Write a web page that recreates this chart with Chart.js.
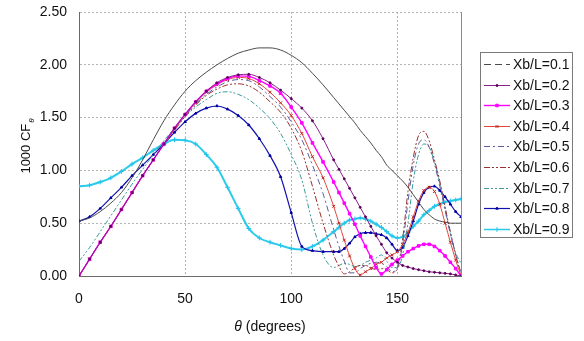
<!DOCTYPE html>
<html>
<head>
<meta charset="utf-8">
<script src="https://cdn.jsdelivr.net/npm/chart.js@4.4.0/dist/chart.umd.min.js"></script>
<style>
  html, body { margin: 0; padding: 0; background: #fff; }
</style>
</head>
<body>
<canvas id="cf" width="584" height="341"></canvas>
<script>
// angle (degrees) - finer step past 120 where the curves get busy
const theta = [0, 5, 10, 15, 20, 25, 30, 35, 40, 45, 50, 55, 60, 65, 70, 75, 80, 85, 90, 95, 100, 105, 110, 115, 120,
  122.5, 125, 127.5, 130, 132.5, 135, 137.5, 140, 142.5, 145, 147.5, 150, 152.5, 155, 157.5, 160,
  162.5, 165, 167.5, 170, 172.5, 175, 177.5, 180];

const seriesNames = ["Xb/L=0.1", "Xb/L=0.2", "Xb/L=0.3", "Xb/L=0.4", "Xb/L=0.5",
  "Xb/L=0.6", "Xb/L=0.7", "Xb/L=0.8", "Xb/L=0.9"];

const xb01 = [0.52, 0.55, 0.61, 0.69, 0.79, 0.93, 1.10, 1.29, 1.47, 1.62, 1.75, 1.85, 1.93, 2.00, 2.06, 2.11, 2.14, 2.16, 2.16, 2.14, 2.09, 2.02, 1.92, 1.81, 1.69,
  1.63, 1.57, 1.51, 1.45, 1.38, 1.32, 1.26, 1.19, 1.13, 1.05, 1.00, 0.95, 0.90, 0.84, 0.77, 0.70,
  0.63, 0.58, 0.54, 0.52, 0.51, 0.50, 0.50, 0.50];
const xb02 = [0, 0.16, 0.32, 0.47, 0.63, 0.79, 0.95, 1.10, 1.25, 1.40, 1.53, 1.65, 1.75, 1.83, 1.88, 1.905, 1.91, 1.88, 1.83, 1.76, 1.68, 1.59, 1.47, 1.30, 1.10,
  1.01, 0.92, 0.83, 0.74, 0.65, 0.56, 0.47, 0.38, 0.30, 0.22, 0.17, 0.13, 0.10, 0.085, 0.07, 0.06,
  0.05, 0.04, 0.035, 0.03, 0.025, 0.02, 0.01, 0];
const xb03 = [0, 0.16, 0.32, 0.47, 0.63, 0.79, 0.95, 1.10, 1.25, 1.40, 1.53, 1.65, 1.75, 1.82, 1.87, 1.895, 1.89, 1.85, 1.80, 1.73, 1.60, 1.45, 1.26, 1.08, 0.89,
  0.79, 0.69, 0.59, 0.49, 0.38, 0.28, 0.18, 0.08, 0.02, 0.06, 0.11, 0.15, 0.19, 0.23, 0.26, 0.285,
  0.30, 0.30, 0.28, 0.24, 0.19, 0.13, 0.07, 0];
const xb04 = [0, 0.16, 0.32, 0.47, 0.63, 0.79, 0.95, 1.10, 1.25, 1.39, 1.53, 1.64, 1.74, 1.81, 1.86, 1.88, 1.87, 1.82, 1.74, 1.64, 1.52, 1.35, 1.13, 0.93, 0.66,
  0.50, 0.34, 0.19, 0.07, 0.01, 0.04, 0.07, 0.11, 0.13, 0.17, 0.20, 0.23, 0.30, 0.41, 0.56, 0.71,
  0.81, 0.84, 0.80, 0.68, 0.50, 0.32, 0.15, 0];
const xb05 = [0, 0.16, 0.32, 0.47, 0.63, 0.79, 0.95, 1.10, 1.25, 1.39, 1.52, 1.63, 1.72, 1.79, 1.84, 1.86, 1.85, 1.79, 1.70, 1.60, 1.46, 1.29, 1.05, 0.78, 0.44,
  0.28, 0.14, 0.03, 0.03, 0.07, 0.10, 0.12, 0.13, 0.12, 0.09, 0.04, 0.08, 0.30, 0.70, 1.05, 1.25,
  1.29, 1.22, 1.06, 0.85, 0.62, 0.40, 0.20, 0.03];
const xb06 = [0, 0.16, 0.32, 0.47, 0.63, 0.79, 0.95, 1.10, 1.25, 1.38, 1.51, 1.62, 1.71, 1.77, 1.81, 1.82, 1.80, 1.74, 1.65, 1.55, 1.40, 1.18, 0.85, 0.50, 0.20,
  0.09, 0.02, 0.04, 0.08, 0.10, 0.10, 0.08, 0.06, 0.07, 0.06, 0.03, 0.07, 0.35, 0.80, 1.12, 1.33,
  1.37, 1.28, 1.10, 0.90, 0.65, 0.42, 0.20, 0.02];
const xb07 = [0.14, 0.27, 0.42, 0.57, 0.72, 0.87, 1.01, 1.15, 1.28, 1.40, 1.51, 1.60, 1.67, 1.73, 1.745, 1.72, 1.67, 1.59, 1.49, 1.35, 1.15, 0.91, 0.50, 0.20, 0.08,
  0.10, 0.12, 0.11, 0.09, 0.10, 0.13, 0.15, 0.17, 0.20, 0.14, 0.08, 0.08, 0.20, 0.50, 0.90, 1.15,
  1.25, 1.22, 1.08, 0.88, 0.65, 0.40, 0.22, 0.12];
const xb08 = [0.52, 0.56, 0.64, 0.74, 0.84, 0.95, 1.05, 1.15, 1.25, 1.36, 1.46, 1.54, 1.59, 1.61, 1.58, 1.52, 1.43, 1.30, 1.14, 0.94, 0.60, 0.28, 0.24, 0.23, 0.23,
  0.23, 0.26, 0.31, 0.37, 0.40, 0.41, 0.41, 0.40, 0.39, 0.36, 0.30, 0.24, 0.27, 0.38, 0.52, 0.68,
  0.79, 0.84, 0.85, 0.81, 0.75, 0.68, 0.61, 0.56];
const xb09 = [0.85, 0.86, 0.89, 0.93, 0.99, 1.06, 1.12, 1.19, 1.25, 1.29, 1.285, 1.25, 1.15, 1.03, 0.84, 0.64, 0.45, 0.36, 0.32, 0.29, 0.26, 0.25, 0.28, 0.34, 0.42,
  0.46, 0.50, 0.53, 0.54, 0.55, 0.54, 0.52, 0.49, 0.46, 0.42, 0.38, 0.36, 0.37, 0.41, 0.47, 0.52,
  0.58, 0.62, 0.66, 0.68, 0.70, 0.71, 0.72, 0.73];

const yTicks = [0, 0.5, 1, 1.5, 2, 2.5];

const allSeries = [xb01, xb02, xb03, xb04, xb05, xb06, xb07, xb08, xb09];
const lineColors = ["#4a4a4a", "#8a1f8a", "#ff00ff", "#e0453a", "#5c5c9c", "#9a3030", "#3a9a9a", "#1010b0", "#2ccbec"];
const markerColors = ["#4a4a4a", "#5a005a", "#ff00ff", "#c02020", "#5c5c9c", "#9a3030", "#3a9a9a", "#0000a0", "#22c4ee"];
const dashes = [[], [], [], [], [6, 3, 2, 3], [6, 2, 2, 2, 2, 2], [5, 2, 2, 2, 2, 2], [], []];
const legendDashes = [[7, 4], [], [], [], [6, 3, 2, 3], [6, 2, 2, 2, 2, 2], [5, 2, 2, 2, 2, 2], [], []];
const markers = [false, "circle", "rect", "crossRot", false, false, false, "triangle", "cross"];
const markerSize = [0, 1, 1.8, 2, 0, 0, 0, 1.4, 2.4];
const widths = [1, 1, 1.4, 1, 1, 1, 1, 1.2, 2];

const datasets = allSeries.map((vals, i) => ({
  label: seriesNames[i],
  data: theta.map((t, k) => ({ x: t, y: vals[k] })),
  borderColor: lineColors[i],
  backgroundColor: markerColors[i],
  borderWidth: widths[i],
  borderDash: dashes[i],
  cubicInterpolationMode: "monotone",
  pointStyle: markers[i] || "circle",
  pointRadius: markers[i] ? markerSize[i] : 0,
  pointBorderColor: markerColors[i],
  pointBackgroundColor: markerColors[i],
  pointBorderWidth: 1,
  pointHoverRadius: 0,
  fill: false
}));

const FONT = "'Liberation Sans', Arial, sans-serif";

// plot frame edge, axis titles and boxed legend
const extras = {
  id: "extras",
  afterDraw(chart) {
    const ctx = chart.ctx;
    const a = chart.chartArea;
    ctx.save();

    ctx.strokeStyle = "#8c8c8c";
    ctx.lineWidth = 1;
    ctx.beginPath();
    ctx.moveTo(Math.round(a.right) + 0.5, a.top);
    ctx.lineTo(Math.round(a.right) + 0.5, a.bottom);
    ctx.stroke();

    // x title
    ctx.fillStyle = "#111";
    ctx.textBaseline = "alphabetic";
    const mid = (a.left + a.right) / 2;
    ctx.font = "italic 14px " + FONT;
    const th = ctx.measureText("\u03b8 ").width;
    ctx.font = "14px " + FONT;
    const rest = ctx.measureText("(degrees)").width;
    let x0 = mid - (th + rest) / 2;
    ctx.font = "italic 14px " + FONT;
    ctx.textAlign = "left";
    ctx.fillText("\u03b8 ", x0, 331);
    ctx.font = "14px " + FONT;
    ctx.fillText("(degrees)", x0 + th, 331);

    // y title with subscript theta
    ctx.save();
    ctx.translate(30, 146);
    ctx.rotate(-Math.PI / 2);
    ctx.font = "13px " + FONT;
    const main = ctx.measureText("1000 CF").width;
    ctx.font = "italic 8px " + FONT;
    const sub = ctx.measureText("\u03b8").width;
    const sx = -(main + sub + 1) / 2;
    ctx.font = "13px " + FONT;
    ctx.fillText("1000 CF", sx, 0);
    ctx.font = "italic 8px " + FONT;
    ctx.fillText("\u03b8", sx + main + 1, 4);
    ctx.restore();

    // legend
    ctx.strokeStyle = "#7a7a7a";
    ctx.lineWidth = 1;
    ctx.strokeRect(480.5, 52.5, 92, 185);
    ctx.font = "14px " + FONT;
    ctx.textBaseline = "middle";
    chart.data.datasets.forEach((ds, i) => {
      const y = Math.round(64 + i * 20.6) + 0.5;
      ctx.save();
      ctx.strokeStyle = ds.borderColor;
      ctx.lineWidth = Math.min(ds.borderWidth, 1.5);
      ctx.setLineDash(legendDashes[i]);
      ctx.beginPath();
      ctx.moveTo(484, y);
      ctx.lineTo(510, y);
      ctx.stroke();
      ctx.restore();
      if (ds.pointRadius > 0 && Chart.helpers && Chart.helpers.drawPoint) {
        ctx.save();
        ctx.strokeStyle = ds.pointBorderColor;
        ctx.fillStyle = ds.pointBackgroundColor;
        ctx.lineWidth = 1;
        Chart.helpers.drawPoint(ctx, { pointStyle: ds.pointStyle, radius: ds.pointRadius, rotation: 0, borderWidth: 1 }, 497, y);
        ctx.restore();
      }
      ctx.fillStyle = "#111";
      ctx.fillText(ds.label, 513, y + 1);
    });
    ctx.restore();
  }
};

new Chart(document.getElementById("cf"), {
  type: "line",
  data: { datasets: datasets },
  options: {
    responsive: false,
    animation: false,
    layout: { padding: { top: 12, right: 123, bottom: 0, left: 0 } },
    plugins: { legend: { display: false }, tooltip: { enabled: false } },
    scales: {
      x: {
        type: "linear",
        min: 0,
        max: 180,
        afterFit: (s) => { s.height = 65; s.paddingLeft = 0; s.paddingRight = 0; },
        ticks: {
          stepSize: 50,
          includeBounds: false,
          padding: 15,
          color: "#111",
          font: { family: FONT, size: 14 }
        },
        grid: { color: "#b4b4b4", drawTicks: false },
        border: { display: true, color: "#6a6a6a", width: 1, dash: [2, 2] }
      },
      y: {
        min: 0,
        max: 2.5,
        afterFit: (s) => { s.width = 79; s.paddingTop = 0; s.paddingBottom = 0; },
        afterBuildTicks: (s) => { s.ticks = yTicks.map(v => ({ value: v })); },
        ticks: {
          padding: 12,
          color: "#111",
          font: { family: FONT, size: 14 },
          callback: (v) => Number(v).toFixed(2)
        },
        grid: { color: "#b4b4b4", drawTicks: false },
        border: { display: true, color: "#6a6a6a", width: 1, dash: [2, 2] }
      }
    }
  },
  plugins: [extras]
});
</script>
</body>
</html>
